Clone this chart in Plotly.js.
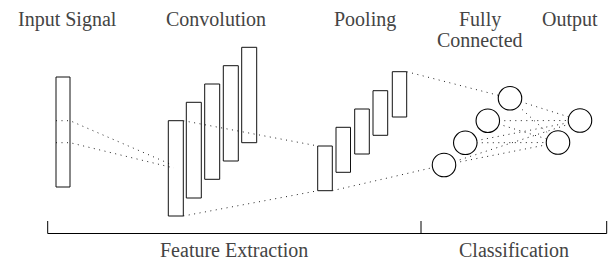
<!DOCTYPE html>
<html><head><meta charset="utf-8">
<script src="https://cdn.plot.ly/plotly-3.0.1.min.js"></script>
<style>html,body{margin:0;padding:0;background:#fff;}#chart{width:611px;height:260px;}</style>
</head><body><div id="chart"></div>
<script>
// ---- labels ----
const stageLabels = ["Input Signal", "Convolution", "Pooling", "Fully", "Connected", "Output"];
const stageLabelX = [67, 216, 365, 480, 480, 570];
const stageLabelY = [19, 19, 19, 19, 40, 19];
const groupLabels = ["Feature Extraction", "Classification"];
const groupStart = [47.7, 421];
const groupEnd = [421, 606.7];
const groupLabelY = [250, 250];
const labelFonts = ["Times New Roman", "Liberation Serif", "Tinos", "serif"];

// ---- layers (rectangles: left, right, top, bottom) ----
const inputLeft = [56], inputRight = [70], inputTop = [77], inputBottom = [187];
const convLeft = [168.3, 186.3, 204.7, 223.3, 241.7];
const convRight = [183.3, 201.3, 219.7, 238.3, 256.7];
const convTop = [120.7, 102.3, 84, 65.7, 47.3];
const convBottom = [216, 198, 179.3, 161, 142.7];
const poolLeft = [317.7, 336, 354.7, 373, 392.3];
const poolRight = [332.3, 350.5, 369.3, 387.7, 406.7];
const poolTop = [146, 127.3, 109, 90.7, 71.7];
const poolBottom = [190.7, 172.3, 154, 135.3, 117];

// ---- neurons ----
const fcX = [444, 465.3, 487.8, 510];
const fcY = [165, 142.8, 120.7, 98.3];
const outX = [580, 558];
const outY = [120.5, 142.5];

// ---- dotted connection paths ----
const linkX = [
  [56, 70, 170], [56, 70, 174],
  [183.3, 318], [183.3, 318],
  [406.7, 510], [332.3, 444]
];
const linkY = [
  [120.7, 120.7, 164], [142.7, 142.7, 168],
  [120.7, 146], [216, 190.7],
  [71.7, 98.3], [190.7, 165]
];

function rectPath(L, R, T, B) {
  const xs = [], ys = [];
  for (let i = 0; i < L.length; i++) {
    xs.push(L[i], R[i], R[i], L[i], L[i], null);
    ys.push(T[i], T[i], B[i], B[i], T[i], null);
  }
  return {xs, ys};
}

const traces = [];

// dotted links
const lx = [], ly = [];
linkX.forEach((a, i) => { lx.push(...a, null); ly.push(...linkY[i], null); });
fcX.forEach((x, i) => {
  outX.forEach((ox, j) => { lx.push(x, ox, null); ly.push(fcY[i], outY[j], null); });
});
traces.push({x: lx, y: ly, mode: 'lines', line: {color: '#222', width: 1, dash: '1px,4.5px'},
  hoverinfo: 'skip', showlegend: false});

// rectangles
[rectPath(inputLeft, inputRight, inputTop, inputBottom),
 rectPath(convLeft, convRight, convTop, convBottom),
 rectPath(poolLeft, poolRight, poolTop, poolBottom)].forEach(p => {
  traces.push({x: p.xs, y: p.ys, mode: 'lines', line: {color: '#111', width: 1},
    hoverinfo: 'skip', showlegend: false});
});

// neurons
traces.push({x: fcX.concat(outX), y: fcY.concat(outY), mode: 'markers',
  marker: {symbol: 'circle', size: 23.5, color: '#fff', line: {color: '#000', width: 1.1}},
  hoverinfo: 'skip', showlegend: false});

// bracket
const bx = [groupStart[0], groupStart[0], groupEnd[1], groupEnd[1], null, groupEnd[0], groupEnd[0]];
const by = [221, 233.5, 233.5, 221, null, 221, 233.5];
traces.push({x: bx, y: by, mode: 'lines', line: {color: '#000', width: 1}, hoverinfo: 'skip', showlegend: false});

const annotations = [];
stageLabels.forEach((t, i) => annotations.push({text: t, x: stageLabelX[i], y: stageLabelY[i],
  xref: 'x', yref: 'y', showarrow: false, xanchor: 'center', yanchor: 'middle',
  font: {family: labelFonts[0], size: 20}}));
groupLabels.forEach((t, i) => annotations.push({text: t, x: (groupStart[i] + groupEnd[i]) / 2, y: groupLabelY[i],
  xref: 'x', yref: 'y', showarrow: false, xanchor: 'center', yanchor: 'middle',
  font: {family: labelFonts[1], size: 20}}));

const layout = {
  width: 611, height: 260,
  margin: {l: 0, r: 0, t: 0, b: 0},
  xaxis: {range: [0, 611], visible: false},
  yaxis: {range: [260, 0], visible: false},
  showlegend: false,
  annotations
};
Plotly.newPlot('chart', traces, layout, {staticPlot: true});
</script></body></html>
